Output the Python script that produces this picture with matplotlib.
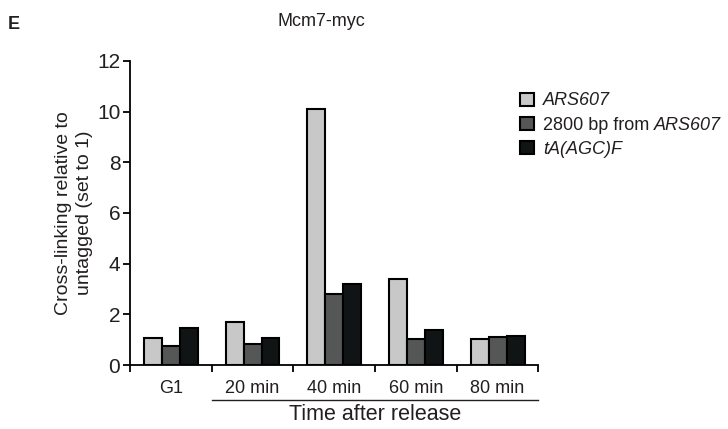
import numpy as np
import matplotlib
matplotlib.use("Agg")
from matplotlib import pyplot as plt

plt.rcParams['font.family'] = ['Liberation Sans', 'DejaVu Sans']
plt.rcParams['text.color'] = '#231f20'
plt.rcParams['axes.labelcolor'] = '#231f20'
plt.rcParams['xtick.labelcolor'] = '#231f20'
plt.rcParams['ytick.labelcolor'] = '#231f20'

##############################################
# Datos
##############################################
groups = ['G1', '20 min', '40 min', '60 min', '80 min']
ars607 = [1.08, 1.71, 10.1, 3.40, 1.03]
bp2800 = [0.76, 0.82, 2.82, 1.03, 1.09]
taagc = [1.47, 1.08, 3.18, 1.38, 1.13]
series = [ars607, bp2800, taagc]
labels = ['ARS607', '2800 bp from ', 'tA(AGC)F']
colors = ['#c8c8c8', '#555757', '#111414']
yticks = [0, 2, 4, 6, 8, 10, 12]

fig = plt.figure(figsize=(7.28, 4.29), dpi=100)
ax = fig.add_axes([0.1786, 0.149, 0.561, 0.709])

x = np.arange(len(groups))
w = 0.22
for k, (vals, col, lab) in enumerate(zip(series, colors, labels)):
	ax.bar(x + (k - 1) * w, vals, width=w, color=col, edgecolor='black',
	       linewidth=1.5, label=lab)

ax.set_xlim(-0.5, len(groups) - 0.5)
ax.set_ylim(0, 12)
ax.set_yticks(yticks)
ax.set_yticklabels([str(t) for t in yticks], fontsize=15)

# ticks entre grupos, etiquetas en el centro
ax.set_xticks(np.arange(len(groups) + 1) - 0.5)
ax.set_xticklabels([])
ax.set_xticks(x, minor=True)
ax.set_xticklabels(groups, minor=True, fontsize=13)
ax.tick_params(axis='x', which='minor', length=0, pad=11)
ax.tick_params(axis='x', which='major', length=5, width=1.3, direction='out')
ax.tick_params(axis='y', length=5, width=1.3, direction='out', pad=2)

for s in ['top', 'right']:
	ax.spines[s].set_visible(False)
for s in ['left', 'bottom']:
	ax.spines[s].set_linewidth(1.3)

ylab = ax.set_ylabel('Cross-linking relative to\nuntagged (set to 1)', fontsize=14,
                     labelpad=3)
ylab.set_linespacing(1.3)

# linea bajo "Time after release"
ax.plot([0.5, len(groups) - 0.5], [-1.38, -1.38], color='#231f20', lw=1.0, clip_on=False)
ax.text(2.5, -1.52, 'Time after release', ha='center', va='top', fontsize=15.5)

fig.text(0.441, 0.951, 'Mcm7-myc', ha='center', va='center', fontsize=13)
fig.text(0.011, 0.943, 'E', ha='left', va='center', fontsize=13, fontweight='bold')

leg = ax.legend(loc='upper left', bbox_to_anchor=(0.938, 0.92), frameon=False,
                fontsize=13, handlelength=0.75, handleheight=0.75,
                handletextpad=0.5, labelspacing=0.4, borderaxespad=0)
txts = leg.get_texts()
txts[0].set_fontstyle('italic')
txts[2].set_fontstyle('italic')

# parte en cursiva de la segunda etiqueta (despues de ubicar la leyenda)
fig.canvas.draw()
ax.annotate('ARS607', xy=(1, 0), xycoords=txts[1], ha='left', va='bottom',
            fontsize=13, fontstyle='italic', annotation_clip=False, zorder=6)

fig.savefig('out.png', dpi=100)
